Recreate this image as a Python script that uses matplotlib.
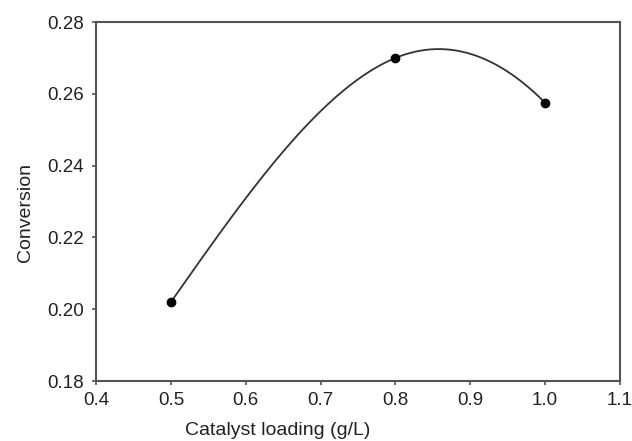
import numpy as np
import matplotlib
matplotlib.use("Agg")
import matplotlib.pyplot as plt

plt.rcParams["font.family"] = ["Liberation Sans", "DejaVu Sans"]

# data
catalyst_loading = [0.5, 0.8, 1.0]
conversion = [0.202, 0.270, 0.2575]

x_ticks = [0.4, 0.5, 0.6, 0.7, 0.8, 0.9, 1.0, 1.1]
y_ticks = [0.18, 0.20, 0.22, 0.24, 0.26, 0.28]


def smooth_curve(x, y, tension=0.23, n=300):
    # cardinal hermite spline through the points (like the sigmaplot spline line)
    x = np.asarray(x, float)
    y = np.asarray(y, float)
    s = np.diff(y) / np.diff(x)
    m = np.zeros_like(y)
    for i in range(1, len(x) - 1):
        m[i] = (1 - tension) * (y[i + 1] - y[i - 1]) / (x[i + 1] - x[i - 1])
    m[0] = 1.5 * s[0] - 0.5 * m[1]
    m[-1] = 2 * s[-1] - m[-2]
    xs, ys = [], []
    for i in range(len(x) - 1):
        h = x[i + 1] - x[i]
        t = np.linspace(0, 1, n)
        h00 = 2 * t**3 - 3 * t**2 + 1
        h10 = t**3 - 2 * t**2 + t
        h01 = -2 * t**3 + 3 * t**2
        h11 = t**3 - t**2
        xs.append(x[i] + t * h)
        ys.append(h00 * y[i] + h10 * h * m[i] + h01 * y[i + 1] + h11 * h * m[i + 1])
    return np.concatenate(xs), np.concatenate(ys)


def main():
    fig = plt.figure(figsize=(6.32, 4.41), dpi=100)
    ax = fig.add_axes([0.152, 0.136, 0.829, 0.814])

    cx, cy = smooth_curve(catalyst_loading, conversion)
    ax.plot(cx, cy, color="#333333", lw=1.3, zorder=2)
    ax.plot(catalyst_loading, conversion, "o", color="black", ms=6, zorder=3)

    ax.set_xlim(0.4, 1.1)
    ax.set_ylim(0.18, 0.28)
    ax.set_xticks(x_ticks)
    ax.set_yticks(y_ticks)
    ax.set_xticklabels([f"{v:.1f}" for v in x_ticks])
    ax.set_yticklabels([f"{v:.2f}" for v in y_ticks])

    for sp in ax.spines.values():
        sp.set_color("#555555")
        sp.set_linewidth(1.5)

    ax.tick_params(direction="out", length=3, width=1.2, color="#555555",
                   labelsize=13.5, labelcolor="#222222", top=False, right=False)
    ax.tick_params(axis="x", pad=5)
    ax.tick_params(axis="y", pad=6)

    ax.set_xlabel("Catalyst loading (g/L)", fontsize=14, color="#222222")
    ax.set_ylabel("Conversion", fontsize=14, color="#222222")
    ax.xaxis.set_label_coords(0.347, -0.115)
    ax.yaxis.set_label_coords(-0.118, 0.47)

    fig.savefig("out.png", dpi=100)
    plt.close(fig)


if __name__ == "__main__":
    main()
